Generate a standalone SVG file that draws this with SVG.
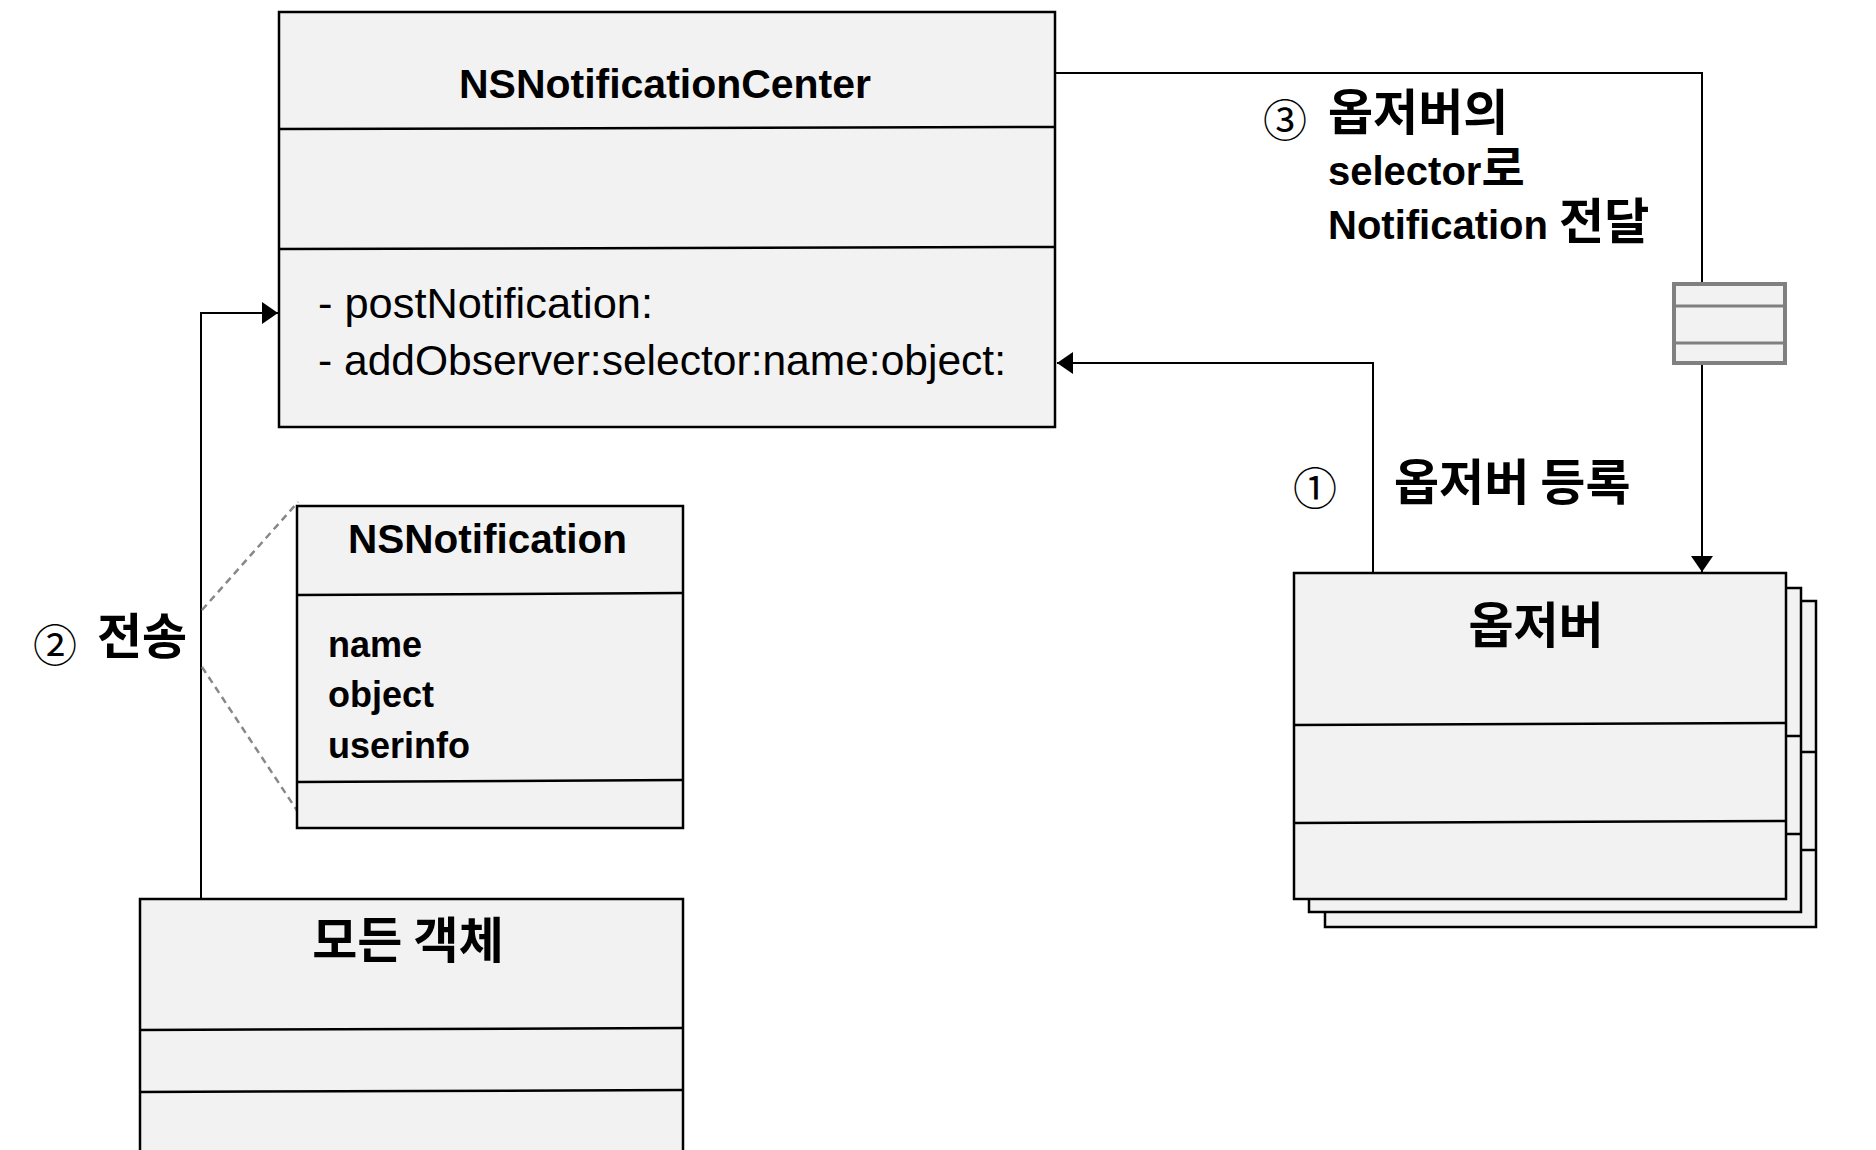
<svg xmlns="http://www.w3.org/2000/svg" width="1876" height="1150" viewBox="0 0 1876 1150">
<style>
.box{fill:#f2f2f2;stroke:#000;stroke-width:2.5}
.div{stroke:#000;stroke-width:2.5;fill:none}
.con{stroke:#000;stroke-width:2;fill:none}
.dash{stroke:#888;stroke-width:2.5;fill:none;stroke-dasharray:7,5}
.b{font-family:"Liberation Sans","Noto Sans CJK KR",sans-serif;font-weight:bold;fill:#000}
.r{font-family:"Liberation Sans","Noto Sans CJK KR",sans-serif;fill:#000}
.k{font-family:"Noto Sans CJK KR",sans-serif;font-weight:bold;fill:#000}
.n{font-family:"Noto Sans CJK KR",sans-serif;fill:#000;font-size:44px;text-anchor:middle;dominant-baseline:central}
</style>
<defs>
<marker id="arr" viewBox="0 0 16 22" refX="16" refY="11" markerWidth="16" markerHeight="22" markerUnits="userSpaceOnUse" orient="auto">
<path d="M0,0 L16,11 L0,22 Z" fill="#000"/>
</marker>
</defs>
<rect width="1876" height="1150" fill="#fff"/>

<g id="connectors">
<path class="con" d="M1373,576 V363 H1057" marker-end="url(#arr)"/>
<path class="con" d="M201,898 V313 H278" marker-end="url(#arr)"/>
<path class="con" d="M1056,73 H1702 V572" marker-end="url(#arr)"/>
<path class="dash" d="M202,610 L298,502"/>
<path class="dash" d="M202,667 L298,812"/>
</g>

<g id="message">
<rect x="1674" y="284" width="111" height="79" fill="#f2f2f2" stroke="#808080" stroke-width="4"/>
<line x1="1674" y1="306" x2="1785" y2="306" stroke="#808080" stroke-width="3"/>
<line x1="1674" y1="343" x2="1785" y2="343" stroke="#808080" stroke-width="3"/>
</g>

<g id="nsnotificationcenter">
<rect class="box" x="279" y="12" width="776" height="415"/>
<line class="div" x1="279" y1="129" x2="1055" y2="127"/>
<line class="div" x1="279" y1="249" x2="1055" y2="247"/>
<text class="b" x="459" y="98" font-size="40" textLength="412" lengthAdjust="spacingAndGlyphs">NSNotificationCenter</text>
<text class="r" x="318" y="318" font-size="42" textLength="335" lengthAdjust="spacingAndGlyphs">- postNotification:</text>
<text class="r" x="318" y="375" font-size="42" textLength="688" lengthAdjust="spacingAndGlyphs">- addObserver:selector:name:object:</text>
</g>

<g id="nsnotification">
<rect class="box" x="297" y="506" width="386" height="322"/>
<line class="div" x1="297" y1="595" x2="683" y2="593"/>
<line class="div" x1="297" y1="782" x2="683" y2="780"/>
<text class="b" x="348" y="553" font-size="40" textLength="279" lengthAdjust="spacingAndGlyphs">NSNotification</text>
<text class="b" x="328" y="657" font-size="36">name</text>
<text class="b" x="328" y="707" font-size="36">object</text>
<text class="b" x="328" y="758" font-size="36">userinfo</text>
</g>

<g id="all-objects">
<rect class="box" x="140" y="899" width="543" height="260"/>
<line class="div" x1="140" y1="1030" x2="683" y2="1028"/>
<line class="div" x1="140" y1="1092" x2="683" y2="1090"/>
<text class="k" x="408" y="958" font-size="49" text-anchor="middle">모든 객체</text>
</g>

<g id="observer">
<rect class="box" x="1325" y="601" width="491" height="326"/>
<line class="div" x1="1325" y1="752" x2="1816" y2="752"/>
<line class="div" x1="1325" y1="850" x2="1816" y2="850"/>
<rect class="box" x="1309" y="588" width="492" height="324"/>
<line class="div" x1="1309" y1="736" x2="1801" y2="736"/>
<line class="div" x1="1309" y1="834" x2="1801" y2="834"/>
<rect class="box" x="1294" y="573" width="492" height="326"/>
<line class="div" x1="1294" y1="725" x2="1786" y2="723"/>
<line class="div" x1="1294" y1="823" x2="1786" y2="821"/>
<text class="k" x="1536" y="643" font-size="49" text-anchor="middle">옵저버</text>
</g>

<g id="labels">
<text class="n" x="1285" y="118">③</text>
<text class="k" x="1328" y="130" font-size="49">옵저버의</text>
<text class="b" x="1328" y="185" font-size="40">selector<tspan font-size="47">로</tspan></text>
<text class="b" x="1328" y="239" font-size="40">Notification <tspan font-size="49">전달</tspan></text>
<text class="n" x="1315" y="486">①</text>
<text class="k" x="1394" y="500" font-size="49">옵저버 등록</text>
<text class="n" x="55" y="643">②</text>
<text class="k" x="97" y="654" font-size="49">전송</text>
</g>
</svg>
